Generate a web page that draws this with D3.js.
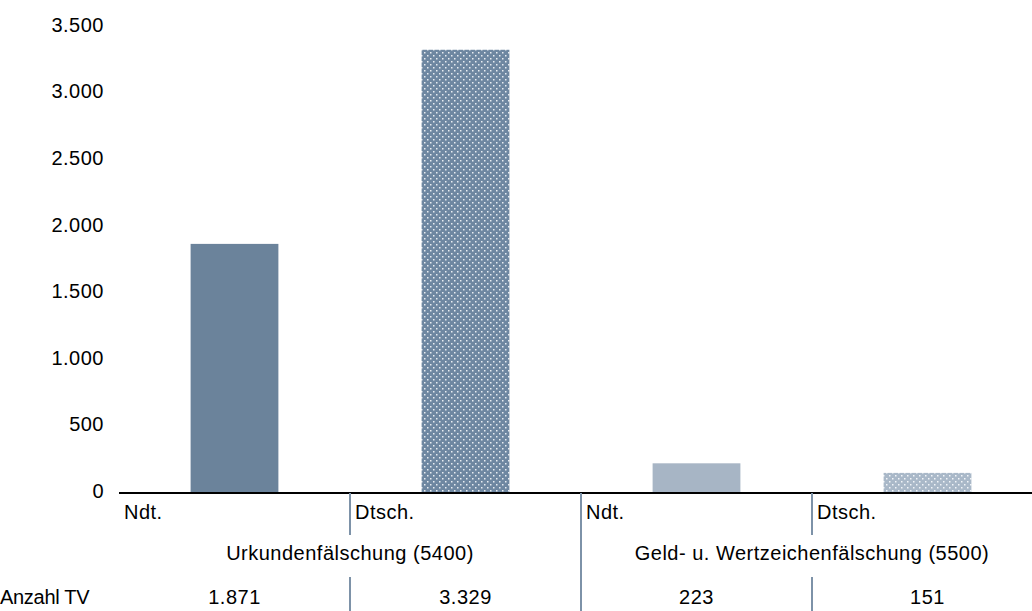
<!DOCTYPE html>
<html lang="de">
<head>
<meta charset="utf-8">
<script src="https://cdn.jsdelivr.net/npm/d3@7"></script>
<style>
  html, body { margin: 0; padding: 0; background: #fff; }
  svg { display: block; font-family: "Liberation Sans", Arial, sans-serif; }
</style>
</head>
<body>
<svg id="chart" width="1032" height="611"></svg>
<script>
// Tatverdächtige nach Nationalität (Ndt. = nichtdeutsch, Dtsch. = deutsch)
const categories = ["U-Ndt", "U-Dtsch", "G-Ndt", "G-Dtsch"];
const categoryLabels = ["Ndt.", "Dtsch.", "Ndt.", "Dtsch."];
const values = [1871, 3329, 223, 151];
const valueLabels = ["1.871", "3.329", "223", "151"];
const groups = ["Urkundenfälschung (5400)", "Geld- u. Wertzeichenfälschung (5500)"];
const groupMembers = [["U-Ndt", "U-Dtsch"], ["G-Ndt", "G-Dtsch"]];
const yTicks = [0, 500, 1000, 1500, 2000, 2500, 3000, 3500];
const rowTitle = "Anzahl TV";

const svg = d3.select("#chart");
const fmt = d3.formatLocale({ decimal: ",", thousands: ".", grouping: [3], currency: ["", "€"] }).format(",d");

const FONT = 20;
const LS = 0.5;

const x = d3.scaleBand().domain(categories).range([119, 1043]).padding(0);
const y = d3.scaleLinear().domain([0, 3500]).range([493, 27]);
const barW = x.bandwidth() * 0.38;

// Bar fills: solid and dotted variants
const defs = svg.append("defs");
function dotPattern(id, base, dot) {
  const p = defs.append("pattern").attr("id", id)
    .attr("width", 6).attr("height", 6).attr("patternUnits", "userSpaceOnUse");
  p.append("rect").attr("width", 6).attr("height", 6).attr("fill", base);
  p.append("rect").attr("x", 1).attr("y", 1).attr("width", 1.5).attr("height", 1.5).attr("fill", dot);
  p.append("rect").attr("x", 4).attr("y", 4).attr("width", 1.5).attr("height", 1.5).attr("fill", dot);
}
dotPattern("dotsDark", "#6e87a1", "#e8edf2");
dotPattern("dotsLight", "#a9b8c8", "#f2f5f8");
const fills = ["#6b839b", "url(#dotsDark)", "#a7b5c5", "url(#dotsLight)"];

// Y axis labels (no axis line)
const yAxis = d3.axisLeft(y).tickValues(yTicks).tickFormat(fmt).tickSize(0).tickPadding(0);
svg.append("g").attr("transform", "translate(104,-2)").call(yAxis)
  .call(g => g.select(".domain").remove())
  .call(g => g.selectAll("text").attr("font-size", FONT).attr("fill", "#000")
    .attr("letter-spacing", LS)
    .attr("font-family", "'Liberation Sans', Arial, sans-serif"));

// Bars
svg.append("g").selectAll("rect").data(categories).join("rect")
  .attr("x", d => x(d) + (x.bandwidth() - barW) / 2)
  .attr("y", (d, i) => y(values[i]))
  .attr("width", barW)
  .attr("height", (d, i) => y(0) - y(values[i]))
  .attr("fill", (d, i) => fills[i]);

// Baseline
svg.append("line").attr("x1", 119).attr("x2", 1032).attr("y1", y(0)).attr("y2", y(0))
  .attr("stroke", "#000").attr("stroke-width", 2);

// Dividers below the axis
const divColor = "#7d92a8";
const divs = svg.append("g").attr("stroke", divColor).attr("stroke-width", 2);
groupMembers.forEach((members, gi) => {
  // inner divider between the two members of a group
  const xi = x(members[1]);
  divs.append("line").attr("x1", xi).attr("x2", xi).attr("y1", y(0)).attr("y2", 535);
  divs.append("line").attr("x1", xi).attr("x2", xi).attr("y1", 577).attr("y2", 611);
  if (gi > 0) {
    const xg = x(members[0]);
    divs.append("line").attr("x1", xg).attr("x2", xg).attr("y1", y(0)).attr("y2", 611);
  }
});

const text = svg.append("g").attr("font-size", FONT).attr("letter-spacing", LS).attr("fill", "#000");

// Category labels
text.selectAll(".cat").data(categories).join("text").attr("class", "cat")
  .attr("x", d => x(d) + 5).attr("y", 519)
  .text((d, i) => categoryLabels[i]);

// Group labels
text.selectAll(".grp").data(groups).join("text").attr("class", "grp")
  .attr("x", (d, i) => (x(groupMembers[i][0]) + x(groupMembers[i][1]) + x.bandwidth()) / 2)
  .attr("y", 560).attr("text-anchor", "middle")
  .text(d => d);

// Data table row
text.append("text").attr("x", 0).attr("y", 604).attr("letter-spacing", -0.3).text(rowTitle);
text.selectAll(".val").data(categories).join("text").attr("class", "val")
  .attr("x", d => x(d) + x.bandwidth() / 2).attr("y", 604).attr("text-anchor", "middle")
  .text((d, i) => valueLabels[i]);
</script>
</body>
</html>
